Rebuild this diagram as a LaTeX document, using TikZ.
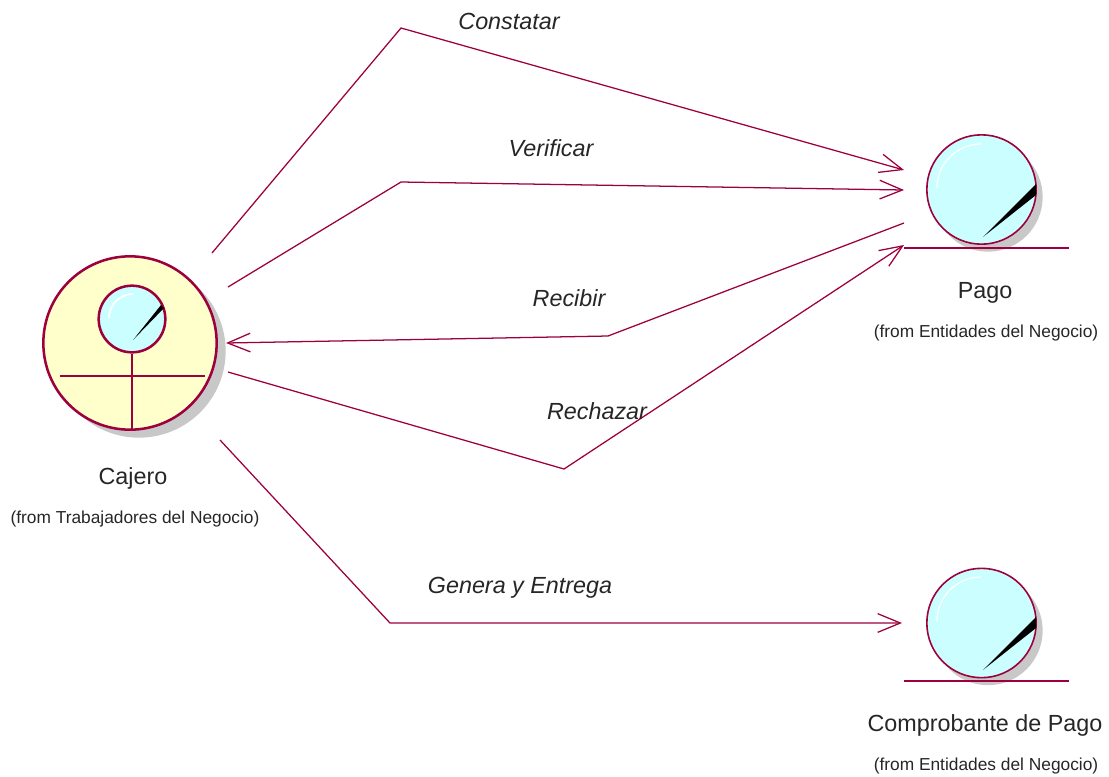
\documentclass[tikz,border=0pt]{standalone}
\usepackage{fontspec}
\setmainfont{Liberation Sans}
\usetikzlibrary{arrows.meta}
\definecolor{linea}{RGB}{158,0,62}
\definecolor{celeste}{RGB}{203,255,255}
\definecolor{crema}{RGB}{255,255,203}
\definecolor{sombra}{RGB}{200,200,200}
\tikzset{
    conector/.style={draw=linea,line width=0.95pt,->,>={Straight Barb[length=17pt,width=14pt]}},
    trazo/.style={draw=linea,line width=1.1pt},
    entidad/.style={circle,draw=linea,line width=1.2pt,fill=celeste,minimum size=82pt,inner sep=0pt},
    trabajador/.style={circle,draw=linea,line width=1.9pt,fill=crema,minimum size=130pt,inner sep=0pt},
    cabeza/.style={circle,draw=linea,line width=1.9pt,fill=celeste,minimum size=50pt,inner sep=0pt},
    sombraent/.style={circle,fill=sombra,minimum size=82pt,inner sep=0pt},
    sombratrab/.style={circle,fill=sombra,minimum size=130pt,inner sep=0pt},
    nombre/.style={font=\fontsize{17.5}{20}\selectfont,text=black!85},
    origen/.style={font=\fontsize{13}{16}\selectfont,text=black!85},
    mensaje/.style={font=\fontsize{17.5}{20}\selectfont\itshape,text=black!85}
}
\begin{document}
\begin{tikzpicture}[x=0.75pt,y=-0.75pt]
    \useasboundingbox (0,0) rectangle (1109,776);

    % Cajero
    \node[sombratrab] (cajeroSombra) at (139,351) {};
    \node[trabajador] (cajero) at (130,343) {};
    \node[cabeza] (cabezaCajero) at (132,319) {};
    \coordinate (manoIzq) at (60,376);
    \coordinate (manoDer) at (205,376);
    \draw[trazo,line width=1.9pt] (manoIzq) -- (manoDer);
    \draw[trazo,line width=1.9pt] (cabezaCajero.south) -- (cabezaCajero.south |- cajero.south);
    \fill[black] (133,340) -- (161,305) -- (164,308) -- cycle;
    \draw[white,line width=1.3pt] (109,318) arc (180:270:24);
    \node[nombre] (cajeroNombre) at (133,478) {Cajero};
    \node[origen] (cajeroOrigen) at (135,519) {(from Trabajadores del Negocio)};

    % Pago
    \node[sombraent] (pagoSombra) at (988,197) {};
    \node[entidad] (pago) at (981.5,189.5) {};
    \coordinate (pagoIzq) at (904,248);
    \coordinate (pagoDer) at (1069,248);
    \draw[trazo] (pagoIzq) -- (pagoDer);
    \fill[black] (983,237) -- (1036,184) -- (1036,195) -- cycle;
    \draw[white,line width=0.9pt] (937,188) arc (180:270:44);
    \node[nombre] (pagoNombre) at (985,293) {Pago};
    \node[origen] (pagoOrigen) at (986,333) {(from Entidades del Negocio)};

    % Comprobante de Pago
    \node[sombraent] (comprobanteSombra) at (988,630.5) {};
    \node[entidad] (comprobante) at (981.5,623) {};
    \coordinate (comprobanteIzq) at (904,681);
    \coordinate (comprobanteDer) at (1069,681);
    \draw[trazo] (comprobanteIzq) -- (comprobanteDer);
    \fill[black] (983,670) -- (1036,617) -- (1036,628) -- cycle;
    \draw[white,line width=0.9pt] (937,621) arc (180:270:44);
    \node[nombre] (comprobanteNombre) at (985,725) {Comprobante de Pago};
    \node[origen] (comprobanteOrigen) at (986,766) {(from Entidades del Negocio)};

    % extremos de los conectores
    \coordinate (constatarIni) at (212,253);
    \coordinate (constatarMed) at (401,28);
    \coordinate (constatarFin) at (904,170);
    \coordinate (verificarIni) at (228,287);
    \coordinate (verificarMed) at (401,182);
    \coordinate (verificarFin) at (904,190);
    \coordinate (recibirIni) at (904,223);
    \coordinate (recibirMed) at (608,336);
    \coordinate (recibirFin) at (226,343);
    \coordinate (rechazarIni) at (228,372);
    \coordinate (rechazarMed) at (564,469);
    \coordinate (rechazarFin) at (904,245);
    \coordinate (generaIni) at (220,440);
    \coordinate (generaMed) at (390,623);
    \coordinate (generaFin) at (902,623);

    \draw[conector] (constatarIni) -- (constatarMed) -- (constatarFin);
    \draw[conector] (verificarIni) -- (verificarMed) -- (verificarFin);
    \draw[conector] (recibirIni) -- (recibirMed) -- (recibirFin);
    \draw[conector] (rechazarIni) -- (rechazarMed) -- (rechazarFin);
    \draw[conector] (generaIni) -- (generaMed) -- (generaFin);

    \node[mensaje] (constatar) at (509,21) {Constatar};
    \node[mensaje] (verificar) at (551,148) {Verificar};
    \node[mensaje] (recibir) at (569,298) {Recibir};
    \node[mensaje] (rechazar) at (597,411) {Rechazar};
    \node[mensaje] (genera) at (520,588) {Genera y Entrega};
\end{tikzpicture}
\end{document}
